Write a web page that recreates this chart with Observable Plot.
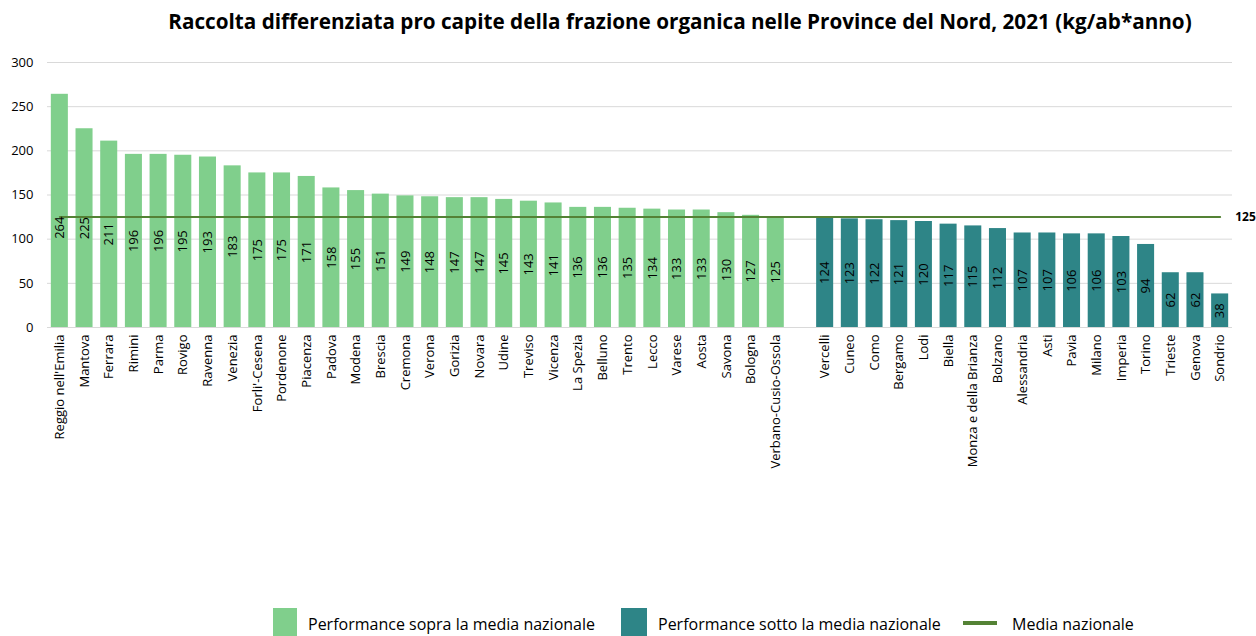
<!DOCTYPE html>
<html><head><meta charset="utf-8">
<script src="https://cdn.jsdelivr.net/npm/d3@7"></script>
<script src="https://cdn.jsdelivr.net/npm/@observablehq/plot@0.6"></script>
<style>
body{margin:0;background:#fff;font-family:"Open Sans",sans-serif;color:#000;}
#wrap{position:relative;width:1256px;height:636px;overflow:hidden;background:#fff;}
#title{position:absolute;left:0;top:7px;width:1256px;padding-left:104px;box-sizing:border-box;text-align:center;font-weight:700;font-size:20.7px;white-space:nowrap;}
#chart{position:absolute;left:0;top:48px;}
.lg{position:absolute;}
.sw{position:absolute;top:608px;width:24px;height:30px;}
.lt{position:absolute;top:613px;font-size:16px;white-space:nowrap;}
</style></head>
<body>
<div id="wrap">
  <div id="title">Raccolta differenziata pro capite della frazione organica nelle Province del Nord, 2021 (kg/ab*anno)</div>
  <div id="chart"></div>
  <div class="sw" style="left:273px;background:#80cf8c"></div>
  <div class="lt" style="left:308px">Performance sopra la media nazionale</div>
  <div class="sw" style="left:621px;width:26px;background:#2e8587"></div>
  <div class="lt" style="left:658px">Performance sotto la media nazionale</div>
  <div class="lg" style="left:963px;top:621px;width:34px;height:4px;background:#548235"></div>
  <div class="lt" style="left:1012px">Media nazionale</div>
</div>
<script>
const sopraNames = ["Reggio nell'Emilia","Mantova","Ferrara","Rimini","Parma","Rovigo","Ravenna","Venezia","Forli'-Cesena","Pordenone","Piacenza","Padova","Modena","Brescia","Cremona","Verona","Gorizia","Novara","Udine","Treviso","Vicenza","La Spezia","Belluno","Trento","Lecco","Varese","Aosta","Savona","Bologna","Verbano-Cusio-Ossola"];
const sopraValues = [264,225,211,196,196,195,193,183,175,175,171,158,155,151,149,148,147,147,145,143,141,136,136,135,134,133,133,130,127,125];
const sottoNames = ["Vercelli","Cuneo","Como","Bergamo","Lodi","Biella","Monza e della Brianza","Bolzano","Alessandria","Asti","Pavia","Milano","Imperia","Torino","Trieste","Genova","Sondrio"];
const sottoValues = [124,123,122,121,120,117,115,112,107,107,106,106,103,94,62,62,38];
const mediaNazionale = 125;
const yTicks = [0,50,100,150,200,250,300];
const gapKey = " ";

const data = [
  ...sopraNames.map((n,i)=>({name:n, value:sopraValues[i], group:"sopra"})),
  ...sottoNames.map((n,i)=>({name:n, value:sottoValues[i], group:"sotto"}))
];
const domain = [...sopraNames, gapKey, ...sottoNames];
const lastName = sottoNames[sottoNames.length-1];

const chart = Plot.plot({
  width: 1256,
  height: 560,
  marginTop: 14,
  marginBottom: 281,
  marginLeft: 47,
  marginRight: 24,
  style: {fontFamily: "'Open Sans', sans-serif", fontSize: "12px", color: "#000", background: "transparent", overflow: "visible"},
  x: {domain, paddingInner: 0.31, paddingOuter: 0.155, label: null},
  y: {domain: [0, 300], label: null},
  color: {domain: ["sopra","sotto"], range: ["#80cf8c","#2e8587"]},
  marks: [
    Plot.gridY(yTicks, {stroke: "#d9d9d9", strokeOpacity: 1}),
    Plot.axisY(yTicks, {tickSize: 0, tickPadding: 14, fontSize: 13}),
    Plot.axisX({tickRotate: -90, tickSize: 0, tickPadding: 7, fontSize: 13, tickFormat: d => d === gapKey ? "" : d}),
    Plot.barY(data, {x: "name", y: "value", fill: "group"}),
    Plot.line(data, {x: "name", y: () => mediaNazionale, stroke: "#548235", strokeWidth: 2}),
    Plot.text(data, {x: "name", y: d => Math.min(d.value / 2, 113), text: d => String(d.value), rotate: -90, fontSize: 13, fill: "#000"}),
    Plot.text([mediaNazionale], {x: () => lastName, y: d => d, text: d => String(d), dx: 15, textAnchor: "start", fontWeight: "bold", fontSize: 12, fill: "#000"})
  ]
});
document.getElementById("chart").appendChild(chart);
</script>
</body></html>
